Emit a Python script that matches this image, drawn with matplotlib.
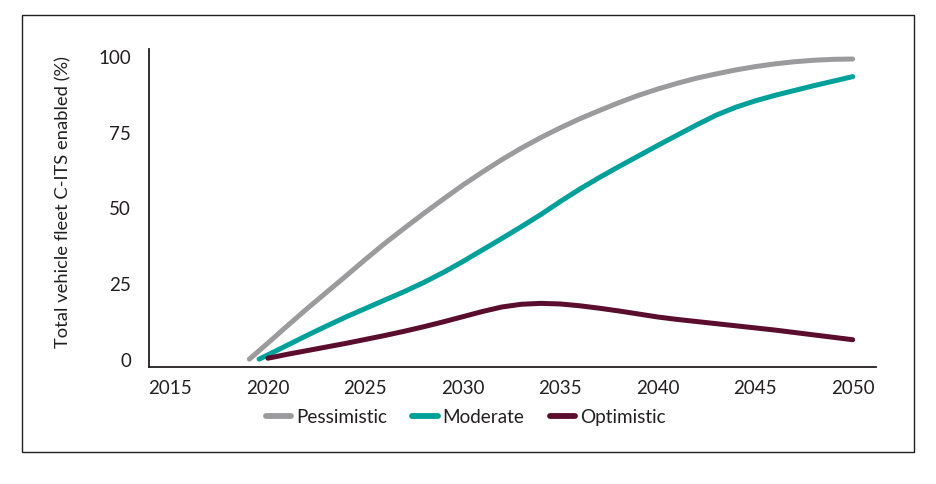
import numpy as np
import matplotlib.pyplot as plt
from matplotlib.patches import Rectangle

# values (share of fleet, %)
years_pess = [2019.05, 2020, 2021, 2022, 2023, 2024, 2025, 2026, 2027, 2028, 2029, 2030,
              2031, 2032, 2033, 2034, 2035, 2036, 2037, 2038, 2039, 2040, 2041, 2042,
              2043, 2044, 2045, 2046, 2047, 2048, 2049, 2050]
pessimistic = [0.3, 5.6, 11.3, 16.9, 22.3, 27.7, 33.2, 38.5, 43.5, 48.4, 53.1, 57.7,
               62.0, 66.1, 69.9, 73.4, 76.6, 79.6, 82.3, 84.9, 87.3, 89.4, 91.3, 93.0,
               94.4, 95.7, 96.8, 97.7, 98.4, 98.9, 99.2, 99.3]

years_mod = [2019.55, 2020, 2021, 2022, 2023, 2024, 2025, 2026, 2027, 2028, 2029, 2030,
             2031, 2032, 2033, 2034, 2035, 2036, 2037, 2038, 2039, 2040, 2041, 2042,
             2043, 2044, 2045, 2046, 2047, 2048, 2049, 2050]
moderate = [0.3, 1.7, 4.9, 8.1, 11.2, 14.2, 17.0, 19.8, 22.6, 25.6, 28.9, 32.5,
            36.3, 40.1, 44.0, 48.0, 52.3, 56.4, 60.2, 63.8, 67.3, 70.8, 74.2, 77.6,
            80.8, 83.4, 85.5, 87.3, 88.9, 90.5, 92.0, 93.5]

years_opt = [2020, 2021, 2022, 2023, 2024, 2025, 2026, 2027, 2028, 2029, 2030,
             2031, 2032, 2033, 2034, 2035, 2036, 2037, 2038, 2039, 2040, 2041, 2042,
             2043, 2044, 2045, 2046, 2047, 2048, 2049, 2050]
optimistic = [0.6, 1.9, 3.1, 4.3, 5.5, 6.8, 8.1, 9.5, 11.0, 12.6, 14.3,
              16.0, 17.5, 18.4, 18.7, 18.5, 17.9, 17.1, 16.2, 15.2, 14.2, 13.4, 12.7,
              12.0, 11.3, 10.6, 9.9, 9.1, 8.3, 7.5, 6.7]

x_ticks = [2015, 2020, 2025, 2030, 2035, 2040, 2045, 2050]
y_ticks = [0, 25, 50, 75, 100]

plt.rcParams['font.family'] = ['Lato', 'DejaVu Sans']
text_col = '#231f20'

fig = plt.figure(figsize=(9.37, 4.84), dpi=100)
fig.patches.append(Rectangle((0.0235, 0.066), 0.952, 0.903, transform=fig.transFigure,
                             fill=False, edgecolor='#231f20', linewidth=1.0))

ax = fig.add_axes([0.159, 0.2417, 0.776, 0.657])
lw = 3.6
style = dict(lw=lw, solid_capstyle='round', solid_joinstyle='round')
ax.plot(years_pess, pessimistic, color='#9b9b9e', label='Pessimistic', **style)
ax.plot(years_mod, moderate, color='#00a09a', label='Moderate', **style)
ax.plot(years_opt, optimistic, color='#5a0d2e', label='Optimistic', **style)

ax.set_xlim(2013.9, 2051.2)
ax.set_ylim(-2.3, 102.6)
ax.set_xticks(x_ticks)
ax.set_yticks(y_ticks)
ax.tick_params(length=0, labelsize=13.5, colors=text_col)
ax.tick_params(axis='y', pad=13)
ax.tick_params(axis='x', pad=9)
for s in ['top', 'right']:
    ax.spines[s].set_visible(False)
for s in ['left', 'bottom']:
    ax.spines[s].set_linewidth(1.3)
    ax.spines[s].set_color('#231f20')

ax.set_ylabel('Total vehicle fleet C-ITS enabled (%)', fontsize=13.2, color=text_col)
ax.yaxis.set_label_coords(-0.107, 0.52)

leg = fig.legend(loc='center', bbox_to_anchor=(0.497, 0.138), ncol=3, frameon=False,
                 fontsize=13.6, handlelength=1.35, handletextpad=0.25, columnspacing=1.35)
for t in leg.get_texts():
    t.set_color(text_col)
for h in leg.get_lines():
    h.set_linewidth(4.2)
    h.set_solid_capstyle('round')

fig.savefig('out.png', dpi=100)
